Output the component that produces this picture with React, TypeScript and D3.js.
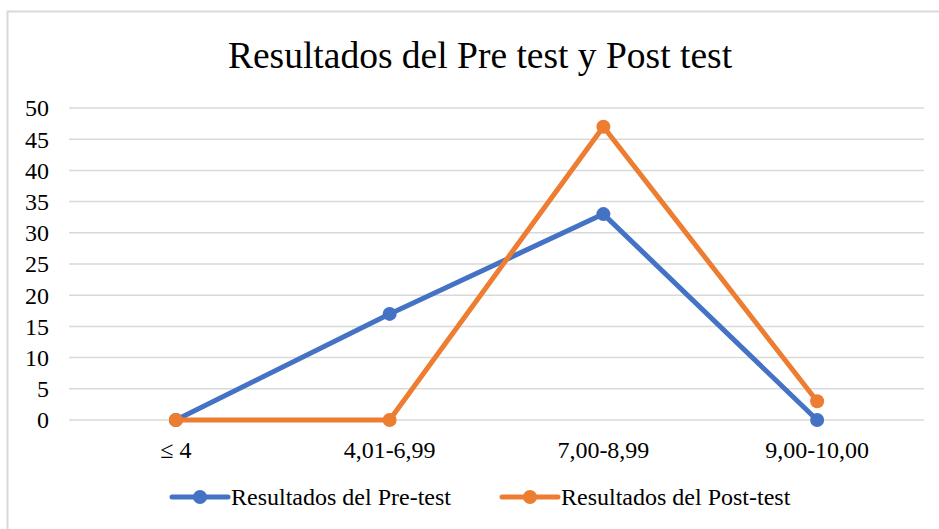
import * as d3 from "d3";
import { useRef, useEffect } from "react";

const categories: string[] = ["≤ 4", "4,01-6,99", "7,00-8,99", "9,00-10,00"];
const preTest: number[] = [0, 17, 33, 0];
const postTest: number[] = [0, 0, 47, 3];
const yTicks: number[] = [0, 5, 10, 15, 20, 25, 30, 35, 40, 45, 50];
const seriesNames: string[] = ["Resultados del Pre-test", "Resultados del Post-test"];

const BLUE = "#4472C4";
const ORANGE = "#ED7D31";
const FONT = "'Liberation Serif', 'Times New Roman', serif";

export default function App() {
  const svgRef: any = useRef();

  useEffect(() => {
    const w = 939;
    const h = 529;
    const svg = d3.select(svgRef.current).attr("width", w).attr("height", h);
    svg.selectAll("*").remove();

    // chart frame
    svg
      .append("rect")
      .attr("x", 7.5)
      .attr("y", 11.5)
      .attr("width", 940)
      .attr("height", 530)
      .attr("fill", "white")
      .attr("stroke", "#D9D9D9")
      .attr("stroke-width", 2);

    svg
      .append("text")
      .attr("x", 480)
      .attr("y", 68)
      .attr("text-anchor", "middle")
      .style("font-family", FONT)
      .style("font-size", "37.5px")
      .attr("fill", "#000")
      .text("Resultados del Pre test y Post test");

    // scales
    const xScale = d3.scalePoint<string>().domain(categories).range([69, 924]).padding(0.5);
    const yScale = d3.scaleLinear().domain([0, 50]).range([420, 108]);

    // gridlines
    svg
      .append("g")
      .selectAll("line")
      .data(yTicks)
      .join("line")
      .attr("x1", 69)
      .attr("x2", 924)
      .attr("y1", (d) => yScale(d))
      .attr("y2", (d) => yScale(d))
      .attr("stroke", "#D9D9D9")
      .attr("stroke-width", 1.5);

    // y labels
    svg
      .append("g")
      .selectAll("text")
      .data(yTicks)
      .join("text")
      .attr("x", 49)
      .attr("y", (d) => yScale(d))
      .attr("dy", "0.35em")
      .attr("text-anchor", "end")
      .style("font-family", FONT)
      .style("font-size", "24px")
      .text((d) => d);

    // x labels
    svg
      .append("g")
      .selectAll("text")
      .data(categories)
      .join("text")
      .attr("x", (d) => xScale(d) as number)
      .attr("y", 458)
      .attr("text-anchor", "middle")
      .style("font-family", FONT)
      .style("font-size", "24px")
      .text((d) => d);

    const line = d3
      .line<number>()
      .x((d, i) => xScale(categories[i]) as number)
      .y((d) => yScale(d));

    const series = [
      { values: preTest, color: BLUE },
      { values: postTest, color: ORANGE },
    ];

    series.forEach((s) => {
      svg
        .append("path")
        .datum(s.values)
        .attr("d", line)
        .attr("fill", "none")
        .attr("stroke", s.color)
        .attr("stroke-width", 5)
        .attr("stroke-linejoin", "round");
      svg
        .append("g")
        .selectAll("circle")
        .data(s.values)
        .join("circle")
        .attr("cx", (d, i) => xScale(categories[i]) as number)
        .attr("cy", (d) => yScale(d))
        .attr("r", 7)
        .attr("fill", s.color);
    });

    // legend
    const legendX = [172, 502];
    const legendY = 497;
    seriesNames.forEach((name, i) => {
      const color = i === 0 ? BLUE : ORANGE;
      const g = svg.append("g").attr("transform", `translate(${legendX[i]}, ${legendY})`);
      g.append("line")
        .attr("x1", 0)
        .attr("x2", 56)
        .attr("stroke", color)
        .attr("stroke-width", 5)
        .attr("stroke-linecap", "round");
      g.append("circle").attr("cx", 28).attr("r", 7).attr("fill", color);
      g.append("text")
        .attr("x", 59)
        .attr("dy", "0.35em")
        .style("font-family", FONT)
        .style("font-size", "24px")
        .text(name);
    });
  }, []);

  return (
    <div style={{ position: "absolute", left: 0, top: 0 }}>
      <svg ref={svgRef} style={{ display: "block" }}></svg>
    </div>
  );
}
